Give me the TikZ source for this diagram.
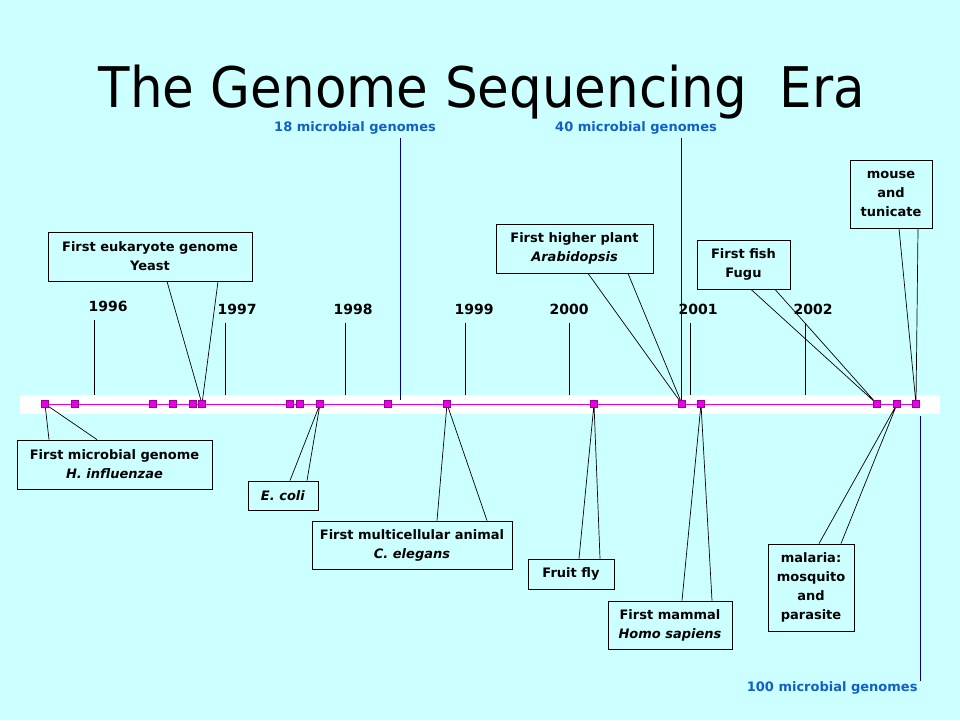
\documentclass[tikz,border=0pt]{standalone}
\usepackage{fontspec}
\setmainfont{DejaVu Sans}
\usetikzlibrary{positioning, calc}

\definecolor{skyfill}{RGB}{204,255,255}
\definecolor{stampmag}{RGB}{230,0,230}
\definecolor{stampedge}{RGB}{150,0,150}
\definecolor{countblue}{RGB}{16,96,200}
\definecolor{countline}{RGB}{0,0,130}

\begin{document}
\begin{tikzpicture}[
    x=1pt, y=-1pt,
    callout/.style={draw, rectangle, fill=skyfill, align=center, inner sep=2pt, line width=0.8pt, font=\fontsize{13}{19}\selectfont\bfseries},
    yearlbl/.style={font=\fontsize{14}{16}\selectfont\bfseries},
    countlbl/.style={text=countblue, font=\fontsize{13}{15}\selectfont\bfseries},
    marker/.style={draw=stampedge, fill=stampmag, minimum size=7pt, inner sep=0pt, line width=0.5pt},
    pointer/.style={line width=0.7pt},
    countbar/.style={draw=countline, line width=0.9pt}
  ]
  \useasboundingbox[fill=skyfill] (0,0) rectangle (960,720);

  % Title
  \node[anchor=base] (title) at (482,107) {\scalebox{0.92}[1]{\fontsize{56}{60}\selectfont The Genome Sequencing\ \ Era}};

  % Timeline band and markers
  \node[fill=white, minimum width=920pt, minimum height=19pt, inner sep=0pt] (band) at (480,404.5) {};
  \foreach \x [count=\i] in {45,75,153,173,193,202,290,300,320,388,447,594,682,701,877,897,916}
    \coordinate (m\i) at (\x,404);
  \draw[stampmag, line width=1pt] (m1) -- (m17);

  % Years
  \foreach \yr/\lx/\ly/\tx in {1996/108/306/94, 1997/237/309/225, 1998/353/309/345, 1999/474/309/465, 2000/569/309/569, 2001/698/309/690, 2002/813/309/805}
  {
    \node[yearlbl] (y\yr) at (\lx,\ly) {\yr};
    \coordinate (t\yr) at (\tx,\ly+14);
    \draw[line width=0.7pt] (t\yr) -- (t\yr |- band.north);
  }

  % Microbial genome counts
  \node[countlbl] (c18) at (355,128) {18 microbial genomes};
  \coordinate (c18top) at (400,138);
  \coordinate (c18end) at (400,400);
  \draw[countbar] (c18top) -- (c18end);
  \node[countlbl] (c40) at (636,128) {40 microbial genomes};
  \coordinate (c40top) at (681,138);
  \coordinate (c40end) at (681,400);
  \draw[countbar] (c40top) -- (c40end);
  \node[countlbl, anchor=east] (c100) at (921,688) {100 microbial genomes};
  \coordinate (c100top) at (920,416);
  \coordinate (c100end) at (920,681);
  \draw[countbar] (c100top) -- (c100end);

  % Callouts below the line
  \node[callout, minimum width=195pt, minimum height=49pt] (flu) at (114.5,464.5) {First microbial genome\\\textit{H. influenzae}};
  \draw[pointer] ([xshift=-65.5pt]flu.north) -- (m1) -- ([xshift=-17.5pt]flu.north);
  \node[callout, minimum width=70pt, minimum height=29pt] (ecoli) at (283,495.5) {\textit{E. coli}};
  \draw[pointer] ([xshift=7pt]ecoli.north) -- (m9) -- ([xshift=24pt]ecoli.north);
  \node[callout, minimum width=200pt, minimum height=48pt] (worm) at (412,545) {First multicellular animal\\\textit{C. elegans}};
  \draw[pointer] ([xshift=25pt]worm.north) -- (m11) -- ([xshift=75pt]worm.north);
  \node[callout, minimum width=86pt, minimum height=30pt] (fly) at (571,574) {Fruit fly};
  \draw[pointer] ([xshift=8pt]fly.north) -- (m12) -- ([xshift=29pt]fly.north);
  \node[callout, minimum width=124pt, minimum height=48pt] (human) at (670,625) {First mammal\\\textit{Homo sapiens}};
  \draw[pointer] ([xshift=12pt]human.north) -- (m14) -- ([xshift=42pt]human.north);
  \node[callout, minimum width=86pt, minimum height=87pt] (malaria) at (811,587.5) {malaria:\\mosquito\\and\\parasite};
  \draw[pointer] ([xshift=8pt]malaria.north) -- (m16) -- ([xshift=30pt]malaria.north);

  % Callouts above the line
  \node[callout, minimum width=204pt, minimum height=49pt] (yeast) at (150,256.5) {First eukaryote genome\\Yeast};
  \draw[pointer] ([xshift=17pt]yeast.south) -- (m6) -- ([xshift=68pt]yeast.south);
  \node[callout, minimum width=157pt, minimum height=49pt] (plant) at (574.5,248.5) {First higher plant\\\textit{Arabidopsis}};
  \draw[pointer] ([xshift=13.5pt]plant.south) -- (m13) -- ([xshift=53.5pt]plant.south);
  \node[callout, minimum width=93pt, minimum height=49pt] (fish) at (743.5,264.5) {First fish\\Fugu};
  \draw[pointer] ([xshift=7.5pt]fish.south) -- (m15) -- ([xshift=31.5pt]fish.south);
  \node[callout, minimum width=82pt, minimum height=68pt] (mouse) at (891,194) {mouse\\and\\tunicate};
  \draw[pointer] ([xshift=8pt]mouse.south) -- (m17) -- ([xshift=27pt]mouse.south);

  \foreach \i in {1,...,17}
    \node[marker] at (m\i) {};
\end{tikzpicture}
\end{document}
